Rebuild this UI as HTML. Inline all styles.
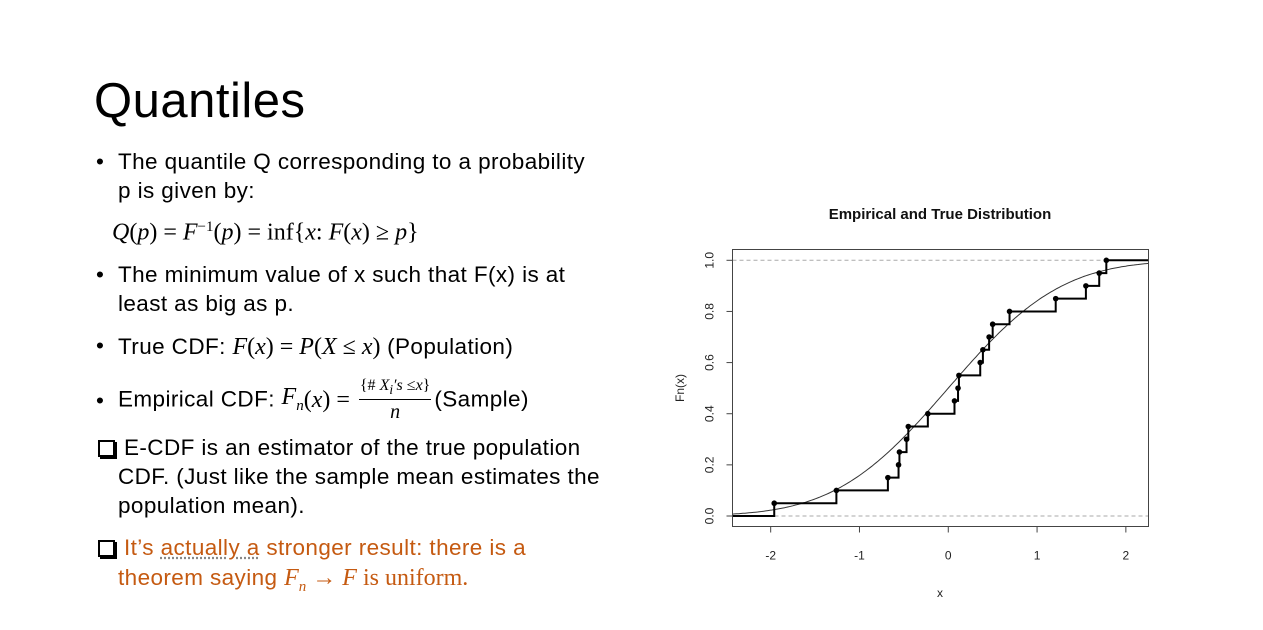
<!DOCTYPE html>
<html><head><meta charset="utf-8">
<style>
html,body{margin:0;padding:0;background:#fff;}
body{width:1263px;height:630px;position:relative;overflow:hidden;font-family:"Liberation Sans",sans-serif;color:#000;}
.t{position:absolute;white-space:nowrap;font-size:22.5px;line-height:1;letter-spacing:0.4px;}
.m{font-family:"Liberation Serif",serif;font-style:italic;font-size:24px;letter-spacing:0;}
.r{font-family:"Liberation Serif",serif;font-size:24px;letter-spacing:0;}
.o{color:#c55a11;}
.b{position:absolute;left:-22px;top:0;}
.box{position:absolute;left:-26px;top:3px;width:13px;height:13px;border:2px solid #000;box-shadow:2px 2px 0 #000;}
.frac{display:inline-block;vertical-align:middle;text-align:center;font-family:"Liberation Serif",serif;letter-spacing:0;margin:0 3px;}
.num{font-size:16px;border-bottom:1px solid #000;padding:0 1px 2px;display:block;}
.den{font-size:20px;font-style:italic;display:block;padding-top:2px;}
</style></head><body>
<div class="t" style="left:94px;top:77px;font-size:49px;letter-spacing:0.5px;">Quantiles</div>
<div class="t" style="left:118px;top:151px;"><span class="b">•</span>The quantile Q corresponding to a probability</div>
<div class="t" style="left:118px;top:180px;">p is given by:</div>
<div class="t" style="left:112px;top:220px;"><span class="m">Q</span><span class="r">(</span><span class="m">p</span><span class="r">) = </span><span class="m">F</span><sup class="r" style="font-size:15px">−1</sup><span class="r">(</span><span class="m">p</span><span class="r">) = inf{</span><span class="m">x</span><span class="r">: </span><span class="m">F</span><span class="r">(</span><span class="m">x</span><span class="r">) ≥ </span><span class="m">p</span><span class="r">}</span></div>
<div class="t" style="left:118px;top:264px;"><span class="b">•</span>The minimum value of x such that F(x) is at</div>
<div class="t" style="left:118px;top:293px;">least as big as p.</div>
<div class="t" style="left:118px;top:335px;"><span class="b">•</span>True CDF: <span class="m">F</span><span class="r">(</span><span class="m">x</span><span class="r">) = </span><span class="m">P</span><span class="r">(</span><span class="m">X</span><span class="r"> ≤ </span><span class="m">x</span><span class="r">)</span> (Population)</div>
<div class="t" style="left:118px;top:378px;line-height:1;"><span class="b" style="top:12px">•</span><span style="vertical-align:middle">Empirical CDF: </span><span class="m" style="vertical-align:middle">F<sub style="font-size:15px">n</sub></span><span class="r" style="vertical-align:middle">(</span><span class="m" style="vertical-align:middle">x</span><span class="r" style="vertical-align:middle">) = </span><span class="frac"><span class="num">{# <i>X</i><sub><i>i</i></sub><i>′s</i> ≤<i>x</i>}</span><span class="den">n</span></span><span style="vertical-align:middle">(Sample)</span></div>
<div class="t" style="left:124px;top:437px;"><span class="box"></span>E-CDF is an estimator of the true population</div>
<div class="t" style="left:118px;top:466px;">CDF. (Just like the sample mean estimates the</div>
<div class="t" style="left:118px;top:495px;">population mean).</div>
<div class="t o" style="left:124px;top:537px;"><span class="box"></span>It’s <span style="text-decoration:underline dotted #888;">actually a</span> stronger result: there is a</div>
<div class="t o" style="left:118px;top:566px;">theorem saying <span class="m">F<sub style="font-size:15px">n</sub></span><span class="r"> → </span><span class="m">F</span><span class="r"> is uniform.</span></div>

<svg id="chart" width="1263" height="630" style="position:absolute;left:0;top:0;" font-family="Liberation Sans, sans-serif"></svg>
<script>
const sampleX=[-1.96,-1.26,-0.68,-0.56,-0.55,-0.47,-0.45,-0.23,0.07,0.11,0.12,0.36,0.39,0.46,0.50,0.69,1.21,1.55,1.70,1.78];
const xTicks=[-2,-1,0,1,2];
const yTicks=[0,0.2,0.4,0.6,0.8,1.0];
const yTickLabels=["0.0","0.2","0.4","0.6","0.8","1.0"];
const chartTitle="Empirical and True Distribution";

const svg=document.getElementById('chart');
const NS='http://www.w3.org/2000/svg';
const L=732.5,R=1148.5,T=249.5,B=526.5;
const xmin=-2.43,xmax=2.255;
const sx=v=>L+(v-xmin)/(xmax-xmin)*(R-L);
const sy=v=>516-v*255.7;
function el(tag,attrs,name){const e=document.createElementNS(NS,tag);for(const k in attrs)e.setAttribute(k,attrs[k]);


svg.appendChild(e);return e;}
function txt(s,attrs,name){const e=el('text',attrs,name);e.textContent=s;return e;}
el('line',{x1:L,x2:R,y1:sy(0),y2:sy(0),stroke:'#aaa','stroke-dasharray':'4,3'},'ref-line-0');
el('line',{x1:L,x2:R,y1:sy(1),y2:sy(1),stroke:'#aaa','stroke-dasharray':'4,3'},'ref-line-1');
function erf(x){const t=1/(1+0.3275911*Math.abs(x));const y=1-(((((1.061405429*t-1.453152027)*t)+1.421413741)*t-0.284496736)*t+0.254829592)*t*Math.exp(-x*x);return x>=0?y:-y;}
const Phi=x=>0.5*(1+erf(x/Math.SQRT2));
let d='';for(let i=0;i<=200;i++){const x=xmin+(xmax-xmin)*i/200;d+=(i?'L':'M')+sx(x).toFixed(1)+' '+sy(Phi(x)).toFixed(1);}
el('path',{d:d,fill:'none',stroke:'#333','stroke-width':1},'true-cdf-curve');
const n=sampleX.length;
let sd='M'+L+' '+sy(0)+' L'+sx(sampleX[0])+' '+sy(0);
for(let i=0;i<n;i++){const x=sampleX[i],y=(i+1)/n;sd+=' L'+sx(x)+' '+sy(y);const nx=i<n-1?sampleX[i+1]:xmax;sd+=' L'+(i<n-1?sx(nx):R)+' '+sy(y);}
el('path',{d:sd,fill:'none',stroke:'#000','stroke-width':2},'ecdf-steps');
for(let i=0;i<n;i++){el('circle',{cx:sx(sampleX[i]),cy:sy((i+1)/n),r:2.8,fill:'#000'},'ecdf-point');}
el('rect',{x:L,y:T,width:R-L,height:B-T,fill:'none',stroke:'#444','stroke-width':1},'plot-frame');
xTicks.forEach(v=>{el('line',{x1:sx(v),x2:sx(v),y1:B,y2:B+6,stroke:'#444'},'x-tick');
txt(String(v),{x:sx(v),y:B+33,'text-anchor':'middle','font-size':12,fill:'#222'},'x-tick-label');});
yTicks.forEach((v,i)=>{el('line',{x1:L,x2:L-6,y1:sy(v),y2:sy(v),stroke:'#444'},'y-tick');
txt(yTickLabels[i],{x:0,y:0,transform:`translate(${L-19},${sy(v)}) rotate(-90)`,'text-anchor':'middle','font-size':12,fill:'#222'},'y-tick-label');});
txt(chartTitle,{x:940,y:219,'text-anchor':'middle','font-size':15,'font-weight':'bold',fill:'#111'},'chart-title');
txt('x',{x:940,y:597,'text-anchor':'middle','font-size':12,fill:'#222'},'x-axis-title');
txt('Fn(x)',{x:0,y:0,transform:'translate(684,388) rotate(-90)','text-anchor':'middle','font-size':12,fill:'#222'},'y-axis-title');
</script>
</body></html>
